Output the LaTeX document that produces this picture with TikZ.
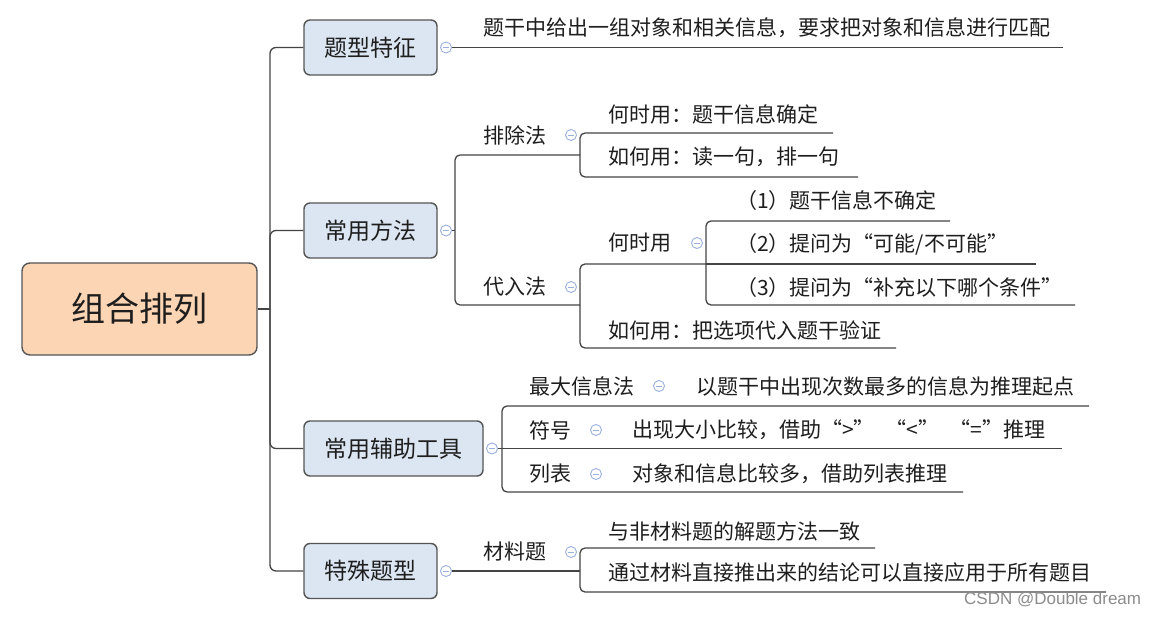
\documentclass[tikz,border=0pt]{standalone}
\usepackage{fontspec}
\newfontfamily\cjk{Noto Sans CJK SC}
\newfontfamily\wmfont{Liberation Sans}
\definecolor{peach}{HTML}{FBD5B4}
\definecolor{paleblue}{HTML}{DCE6F2}
\definecolor{edge}{HTML}{555555}
\definecolor{linec}{HTML}{444444}
\definecolor{txtc}{HTML}{1E1E1E}
\definecolor{foldc}{HTML}{9AB0DC}
\begin{document}
\begin{tikzpicture}[x=1pt,y=-1pt,
  rootbox/.style={draw=edge, line width=1.4pt, fill=peach, rounded corners=8pt,
    font=\cjk\fontsize{34}{34}\selectfont, text=txtc, inner sep=0pt},
  topbox/.style={draw=edge, line width=1.4pt, fill=paleblue, rounded corners=6pt,
    font=\cjk\fontsize{23}{23}\selectfont, text=txtc, inner sep=0pt, minimum height=55pt},
  txt/.style={anchor=west, inner sep=0pt, font=\cjk\fontsize{21}{21}\selectfont, text=txtc},
  conn/.style={draw=linec, line width=1.3pt},
  brk/.style={conn, rounded corners=5pt},
  fold/.style={circle, draw=foldc, line width=0.9pt, minimum size=11pt, inner sep=0pt, fill=white,
    path picture={\draw[foldc, line width=0.9pt]
      ([xshift=-2.8pt]path picture bounding box.center) --
      ([xshift=2.8pt]path picture bounding box.center);}}
]
\useasboundingbox (0,0) rectangle (1155,617);
\fill[white] (0,0) rectangle (1155,617);

% root and main topics
\node[rootbox, minimum width=235pt, minimum height=92pt] (root) at (139.5,309) {组合排列};
\node[topbox, minimum width=133pt] (n1) at (370.5,47.5) {题型特征};
\node[topbox, minimum width=133pt] (n2) at (370.5,230.5) {常用方法};
\node[topbox, minimum width=179pt] (n3) at (393.5,448.5) {常用辅助工具};
\node[topbox, minimum width=133pt] (n4) at (370.5,571) {特殊题型};

\coordinate (hub) at (270,309);
\draw[conn] (root.east) -- (hub);
\foreach \n in {n1,n2,n3,n4} \draw[brk, rounded corners=6pt] (hub) |- (\n.west);

% texts
\node[txt] (t1) at (483,28) {题干中给出一组对象和相关信息，要求把对象和信息进行匹配};
\node[txt] (t21) at (483,135) {排除法};
\node[txt] (t211) at (608,114) {何时用：题干信息确定};
\node[txt] (t212) at (608,157) {如何用：读一句，排一句};
\node[txt] (t22) at (483,287) {代入法};
\node[txt] (t221) at (608,243) {何时用};
\node[txt] (t2211) at (736,201) {（1）题干信息不确定};
\node[txt] (t2212) at (736,244) {（2）提问为“可能/不可能”};
\node[txt] (t2213) at (736,288) {（3）提问为“补充以下哪个条件”};
\node[txt] (t222) at (608,330) {如何用：把选项代入题干验证};
\node[txt] (t31) at (529,386) {最大信息法};
\node[txt] (t311) at (696,386) {以题干中出现次数最多的信息为推理起点};
\node[txt] (t32) at (529,430) {符号};
\node[txt] (t321) at (632,430) {出现大小比较，借助“>”\hspace{0.5em}“<”\hspace{0.5em}“=”推理};
\node[txt] (t33) at (529,474) {列表};
\node[txt] (t331) at (632,474) {对象和信息比较多，借助列表推理};
\node[txt] (t41) at (483,552) {材料题};
\node[txt] (t411) at (608,531) {与非材料题的解题方法一致};
\node[txt] (t412) at (608,573) {通过材料直接推出来的结论可以直接应用于所有题目};

% underline ends / junctions
\coordinate (u1) at (1063,47.5);
\coordinate (b2) at (455,230.5);
\coordinate (p1) at (580,155);
\coordinate (p2) at (580,305);
\coordinate (e11) at (833,133);
\coordinate (e12) at (858,177);
\coordinate (q) at (706,264);
\coordinate (f1) at (950,221);
\coordinate (f2) at (1036,264);
\coordinate (f3) at (1075,305);
\coordinate (e22) at (896,348);
\coordinate (b3) at (502,448.5);
\coordinate (g1) at (1089,406);
\coordinate (g2) at (1062,448.5);
\coordinate (g3) at (963,492);
\coordinate (p4) at (580,571);
\coordinate (h1) at (875,548);
\coordinate (h2) at (1106,592);

% fold markers
\node[fold] (c1) at (446,47.5) {};
\node[fold] (c2) at (446,230.5) {};
\node[fold] (c3) at (492,448.5) {};
\node[fold] (c4) at (446,571) {};
\node[fold] (c21) at (571,135) {};
\node[fold] (c22) at (571,287) {};
\node[fold] (c221) at (697,243) {};
\node[fold] (c31) at (659,386) {};
\node[fold] (c32) at (596,430) {};
\node[fold] (c33) at (596,474) {};
\node[fold] (c41) at (571,552) {};

% connectors
\draw[conn] (c1.east) -- (u1);
\draw[conn] (c2.east) -- (b2);
\draw[brk] (b2) |- (p1);
\draw[brk] (b2) |- (p2);
\draw[brk] (p1) |- (e11);
\draw[brk] (p1) |- (e12);
\draw[brk] (p2) |- (q);
\draw[brk] (p2) |- (e22);
\draw[brk] (q) |- (f1);
\draw[conn] (q) -- (f2);
\draw[brk] (q) |- (f3);
\draw[conn] (c3.east) -- (b3);
\draw[brk] (b3) |- (g1);
\draw[conn] (b3) -- (g2);
\draw[brk] (b3) |- (g3);
\draw[conn] (c4.east) -- (p4);
\draw[brk] (p4) |- (h1);
\draw[brk] (p4) |- (h2);

\node[anchor=west, inner sep=0pt, font=\wmfont\fontsize{17}{17}\selectfont, text=black!45] (wm) at (964,600) {CSDN @Double dream};
\end{tikzpicture}
\end{document}
